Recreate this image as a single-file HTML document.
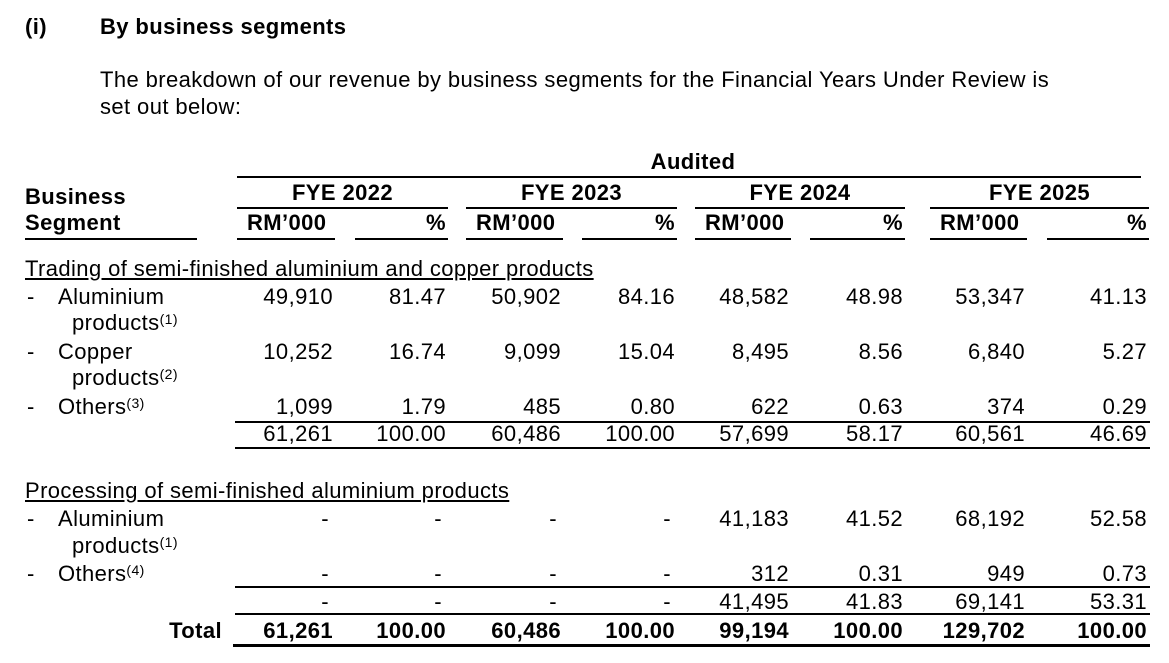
<!DOCTYPE html>
<html><head><meta charset="utf-8"><style>
body{margin:0;background:#fff;width:1169px;height:663px;position:relative;overflow:hidden;font-family:"Liberation Sans",sans-serif;color:#000}
.t{position:absolute;font-size:22px;line-height:24px;white-space:nowrap;letter-spacing:0.4px}
.b{font-weight:bold}
.r{text-align:right}
.c{text-align:center}
.l{position:absolute;background:#000;height:2px}
sup{font-size:14px;vertical-align:top;position:relative;top:-4px}
u{text-decoration:underline}
</style></head><body>
<div class="t b" style="left:25px;top:15px">(i)</div>
<div class="t b" style="left:100px;top:15px">By business segments</div>
<div class="t" style="left:100px;top:68px">The breakdown of our revenue by business segments for the Financial Years Under Review is</div>
<div class="t" style="left:100px;top:95px">set out below:</div>

<div class="t b c" style="left:237px;width:912px;top:150px">Audited</div>
<div class="l" style="left:237px;width:904px;top:176px"></div>

<div class="t b" style="left:25px;top:185px">Business</div>
<div class="t b" style="left:25px;top:211px">Segment</div>
<div class="l" style="left:25px;width:172px;top:238px"></div>

<script>
const years=['FYE 2022','FYE 2023','FYE 2024','FYE 2025'];
const rmVals=[['49,910','50,902','48,582','53,347'],['10,252','9,099','8,495','6,840'],['1,099','485','622','374'],['61,261','60,486','57,699','60,561'],['-','-','41,183','68,192'],['-','-','312','949'],['-','-','41,495','69,141'],['61,261','60,486','99,194','129,702']];
const pctVals=[['81.47','84.16','48.98','41.13'],['16.74','15.04','8.56','5.27'],['1.79','0.80','0.63','0.29'],['100.00','100.00','58.17','46.69'],['-','-','41.52','52.58'],['-','-','0.31','0.73'],['-','-','41.83','53.31'],['100.00','100.00','100.00','100.00']];
const rowY=[297,352,407,434,519,574,602,631];
const rmL=[237,466,695,930], rmR=[335,563,791,1027];
const pcL=[355,582,810,1047], pcR=[448,677,905,1149];
function add(parent,html,cls,style,name){
 const d=document.createElement('div');d.className=cls;d.setAttribute('style',style);d.innerHTML=html;
 
 
 parent.appendChild(d);return d;}
const B=document.body;
years.forEach((y,i)=>{
 add(B,y,'t b c',`left:${rmL[i]}px;width:${pcR[i]-rmL[i]}px;top:181px`,'year-header');
 add(B,'','l',`left:${rmL[i]}px;width:${pcR[i]-rmL[i]}px;top:207px`,'year-rule');
 add(B,'RM’000','t b',`left:${rmL[i]+10}px;top:211px`,'rm-header');
 add(B,'%','t b r',`left:${pcL[i]}px;width:${pcR[i]-pcL[i]-2}px;top:211px`,'pct-header');
 add(B,'','l',`left:${rmL[i]}px;width:${rmR[i]-rmL[i]}px;top:238px`,'rm-rule');
 add(B,'','l',`left:${pcL[i]}px;width:${pcR[i]-pcL[i]}px;top:238px`,'pct-rule');
});
add(B,'<u>Trading of semi-finished aluminium and copper products</u>','t','left:25px;top:257px','trading-header');
add(B,'<u>Processing of semi-finished aluminium products</u>','t','left:25px;top:479px','processing-header');
const labels=[[297,'Aluminium',323,'products<sup>(1)</sup>'],[352,'Copper',378,'products<sup>(2)</sup>'],[407,'Others<sup>(3)</sup>'],[519,'Aluminium',546,'products<sup>(1)</sup>'],[574,'Others<sup>(4)</sup>']];
labels.forEach(l=>{
 add(B,'-','t',`left:27px;top:${l[0]-12}px`,'row-dash');
 add(B,l[1],'t',`left:58px;top:${l[0]-12}px`,'row-label');
 if(l[2])add(B,l[3],'t',`left:72px;top:${l[2]-12}px`,'row-label-cont');
});
rowY.forEach((y,r)=>{
 const bold=r===7?' b':'';
 for(let i=0;i<4;i++){
  const rv=rmVals[r][i], pv=pctVals[r][i];
  add(B,rv,'t r'+bold,`left:${rmL[i]-20}px;width:${rmR[i]-rmL[i]+18-(rv==='-'?4:0)}px;top:${y-12}px`,'rm-value');
  add(B,pv,'t r'+bold,`left:${pcL[i]-20}px;width:${pcR[i]-pcL[i]+18-(pv==='-'?4:0)}px;top:${y-12}px`,'pct-value');
 }
});
add(B,'Total','t b r','left:120px;width:102px;top:619px','total-label');
[421,447,586,613].forEach(a=>add(B,'','l',`left:235px;width:915px;top:${a}px`,'subtotal-rule'));
add(B,'','l','left:233px;width:917px;top:644px;height:3px','total-rule');
</script>
</body></html>
